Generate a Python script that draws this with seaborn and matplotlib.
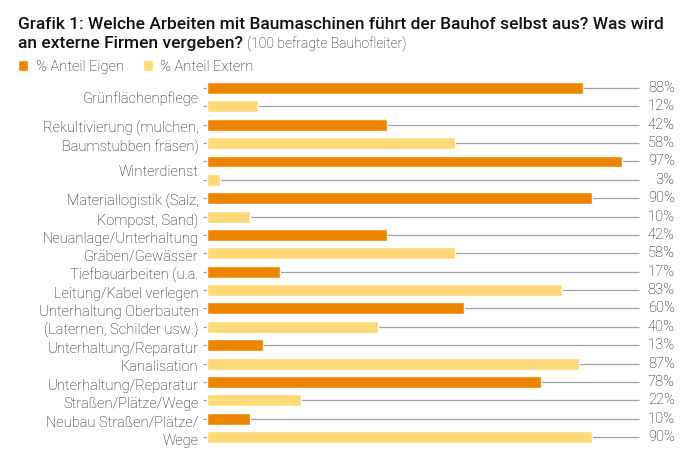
import pandas as pd
import matplotlib.pyplot as plt
import seaborn as sns
from matplotlib.transforms import blended_transform_factory

# ---------------------------
# Data
# ---------------------------
categories = [
    "Grünflächenpflege",
    "Rekultivierung (mulchen,\nBaumstubben fräsen)",
    "Winterdienst",
    "Materiallogistik (Salz,\nKompost, Sand)",
    "Neuanlage/Unterhaltung\nGräben/Gewässer",
    "Tiefbauarbeiten (u.a.\nLeitung/Kabel verlegen",
    "Unterhaltung Oberbauten\n(Laternen, Schilder usw.)",
    "Unterhaltung/Reparatur\nKanalisation",
    "Unterhaltung/Reparatur\nStraßen/Plätze/Wege",
    "Neubau Straßen/Plätze/\nWege",
]
anteil_eigen = [88, 42, 97, 90, 42, 17, 60, 13, 78, 10]
anteil_extern = [12, 58, 3, 10, 58, 83, 40, 87, 22, 90]
series = ["% Anteil Eigen", "% Anteil Extern"]
colors = ["#EE8500", "#FDD978"]

df = pd.DataFrame({
    "Arbeit": categories * 2,
    "Wert": anteil_eigen + anteil_extern,
    "Serie": [series[0]] * len(categories) + [series[1]] * len(categories),
})

# ---------------------------
# Plot
# ---------------------------
sns.set_style("white")
plt.rcParams["font.family"] = ["Roboto", "DejaVu Sans"]

fig = plt.figure(figsize=(7, 4.59), dpi=100)
ax = fig.add_axes([0.2957, 0.0279, 0.614, 0.8004])

sns.barplot(
    data=df, y="Arbeit", x="Wert", hue="Serie", orient="h",
    palette=colors, width=1, gap=0.35, dodge=True, ax=ax,
    saturation=1, legend=True,
)

ax.set_xlim(0, 100.5)
ax.set_ylim(9.5, -0.5)
ax.set_xlabel("")
ax.set_ylabel("")
ax.set_xticks([])
for s in ax.spines.values():
    s.set_visible(False)
ax.tick_params(axis="y", length=0, pad=6, labelsize=10.5, labelcolor="#111111")
for lbl in ax.get_yticklabels():
    lbl.set_linespacing(1.38)
    lbl.set_fontweight("light")

# grid line + value per bar
vtrans = blended_transform_factory(fig.transFigure, ax.transData)
for p in ax.patches:
    h = p.get_height()
    if h == 0:
        continue
    yc = p.get_y() + h / 2
    ax.hlines(yc, -1.0, 101.0, color="#A0A0A0", lw=0.9, zorder=0, clip_on=False)
    ax.text(0.964, yc, f"{p.get_width():.0f}%", transform=vtrans,
            ha="right", va="center", fontsize=10.5, fontweight="light",
            color="#111111")

# legend
leg = ax.legend(
    loc="upper left", bbox_to_anchor=(0.026, 0.87), bbox_transform=fig.transFigure,
    ncol=2, frameon=False, handlelength=0.7, handleheight=0.7,
    handletextpad=0.5, columnspacing=1.3, fontsize=10.5, borderaxespad=0, borderpad=0,
)
for t in leg.get_texts():
    t.set_fontweight("light")
    t.set_color("#111111")

# title
t1 = fig.text(0.026, 0.937,
              "Grafik 1: Welche Arbeiten mit Baumaschinen führt der Bauhof selbst aus? Was wird",
              fontsize=12.5, fontweight="medium", va="baseline", ha="left", color="#111111")
t2 = fig.text(0.026, 0.895, "an externe Firmen vergeben?",
              fontsize=12.5, fontweight="medium", va="baseline", ha="left", color="#111111")
fig.canvas.draw()
bb = t2.get_window_extent().transformed(fig.transFigure.inverted())
fig.text(bb.x1 + 0.006, 0.895, "(100 befragte Bauhofleiter)",
         fontsize=10, fontweight="light", va="baseline", ha="left", color="#111111")

fig.savefig("out.png", dpi=100)
